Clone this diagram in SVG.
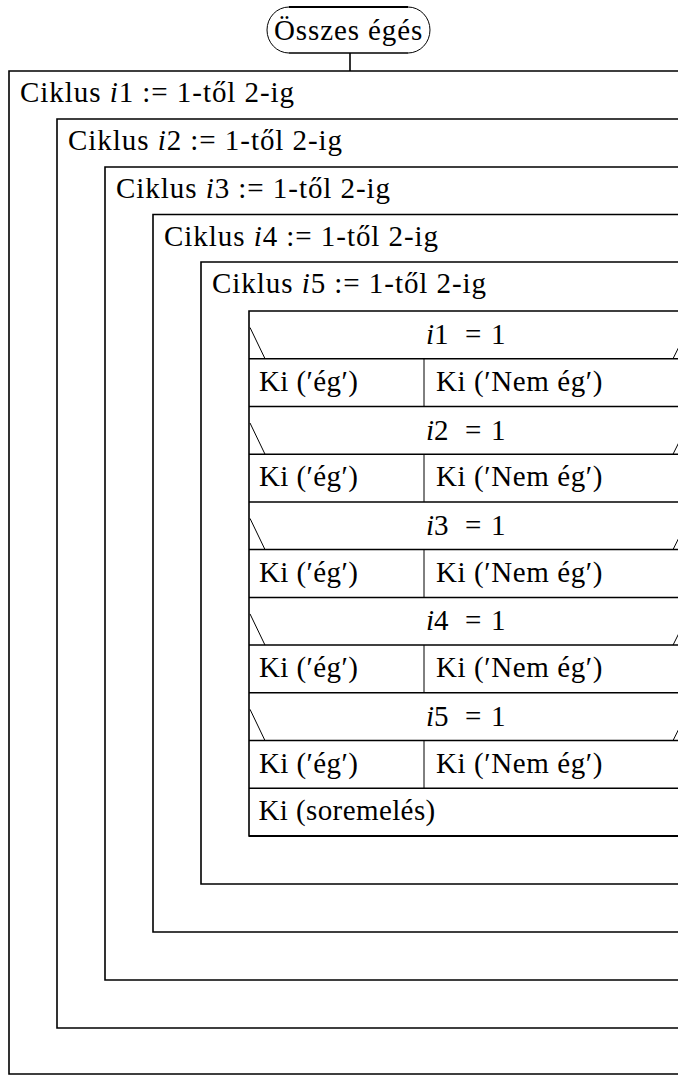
<svg xmlns="http://www.w3.org/2000/svg" width="678" height="1075" viewBox="0 0 678 1075">
<style>
.it{font-style:italic}
.box{fill:none;stroke:#000;stroke-width:1.6}
.thin{fill:none;stroke:#000;stroke-width:1}
.row{fill:none;stroke:#000;stroke-width:1.5}
</style>
<rect width="678" height="1075" fill="#fff"/>

<g id="connectors">
<line x1="350" y1="53" x2="350" y2="71" class="box"/>
</g>

<g id="terminal">
<line x1="289" y1="7" x2="408" y2="7" stroke="#000" stroke-width="2"/>
<line x1="289" y1="53" x2="408" y2="53" stroke="#000" stroke-width="1.5"/>
<path d="M289,7 A22,23 0 0 0 289,53" class="thin"/>
<path d="M408,7 A22,23 0 0 1 408,53" class="thin"/>
<text x="274" y="40" font-family="Liberation Serif" font-size="29" letter-spacing="0.9">Összes égés</text>
</g>

<g id="loop1">
<polyline points="690,71 9,71 9,1074 690,1074" class="box"/>
<text x="20" y="102" font-family="Liberation Serif" font-size="29" letter-spacing="0.95">Ciklus <tspan class="it">i</tspan>1 := 1-től 2-ig</text>
</g>
<g id="loop2">
<polyline points="690,119 57,119 57,1028 690,1028" class="box"/>
<text x="68" y="150" font-family="Liberation Serif" font-size="29" letter-spacing="0.95">Ciklus <tspan class="it">i</tspan>2 := 1-től 2-ig</text>
</g>
<g id="loop3">
<polyline points="690,167 105,167 105,980 690,980" class="box"/>
<text x="116" y="198" font-family="Liberation Serif" font-size="29" letter-spacing="0.95">Ciklus <tspan class="it">i</tspan>3 := 1-től 2-ig</text>
</g>
<g id="loop4">
<polyline points="690,214.5 153,214.5 153,932 690,932" class="box"/>
<text x="164" y="245.5" font-family="Liberation Serif" font-size="29" letter-spacing="0.95">Ciklus <tspan class="it">i</tspan>4 := 1-től 2-ig</text>
</g>
<g id="loop5">
<polyline points="690,262 201,262 201,884 690,884" class="box"/>
<text x="212" y="293" font-family="Liberation Serif" font-size="29" letter-spacing="0.95">Ciklus <tspan class="it">i</tspan>5 := 1-től 2-ig</text>
</g>

<g id="structogram">
<polyline points="690,311 249,311 249,836 690,836" class="box"/>
<line x1="249" y1="836" x2="690" y2="836" stroke="#000" stroke-width="2.2"/>
</g>

<g id="if1">
<line x1="250" y1="327.5" x2="265" y2="358.7" class="thin"/>
<line x1="673" y1="358.7" x2="686" y2="332.7" class="thin"/>
<text x="426" y="344" font-family="Liberation Serif" font-size="29"><tspan class="it">i</tspan>1<tspan x="465">=</tspan><tspan x="491">1</tspan></text>
<line x1="249" y1="358.7" x2="690" y2="358.7" class="row"/>
</g>
<g id="out1">
<line x1="424" y1="358.7" x2="424" y2="406.5" class="thin"/>
<text x="259" y="390.7" font-family="Liberation Serif" font-size="29" letter-spacing="0.4">Ki (′ég′)</text>
<text x="436" y="390.7" font-family="Liberation Serif" font-size="29" letter-spacing="0.6">Ki (′Nem ég′)</text>
<line x1="249" y1="406.5" x2="690" y2="406.5" class="row"/>
</g>

<g id="if2">
<line x1="250" y1="423" x2="265" y2="454.2" class="thin"/>
<line x1="673" y1="454.2" x2="686" y2="428.2" class="thin"/>
<text x="426" y="439.5" font-family="Liberation Serif" font-size="29"><tspan class="it">i</tspan>2<tspan x="465">=</tspan><tspan x="491">1</tspan></text>
<line x1="249" y1="454.2" x2="690" y2="454.2" class="row"/>
</g>
<g id="out2">
<line x1="424" y1="454.2" x2="424" y2="501.9" class="thin"/>
<text x="259" y="486.2" font-family="Liberation Serif" font-size="29" letter-spacing="0.4">Ki (′ég′)</text>
<text x="436" y="486.2" font-family="Liberation Serif" font-size="29" letter-spacing="0.6">Ki (′Nem ég′)</text>
<line x1="249" y1="501.9" x2="690" y2="501.9" class="row"/>
</g>

<g id="if3">
<line x1="250" y1="518.4" x2="265" y2="549.6" class="thin"/>
<line x1="673" y1="549.6" x2="686" y2="523.6" class="thin"/>
<text x="426" y="534.9" font-family="Liberation Serif" font-size="29"><tspan class="it">i</tspan>3<tspan x="465">=</tspan><tspan x="491">1</tspan></text>
<line x1="249" y1="549.6" x2="690" y2="549.6" class="row"/>
</g>
<g id="out3">
<line x1="424" y1="549.6" x2="424" y2="597.4" class="thin"/>
<text x="259" y="581.6" font-family="Liberation Serif" font-size="29" letter-spacing="0.4">Ki (′ég′)</text>
<text x="436" y="581.6" font-family="Liberation Serif" font-size="29" letter-spacing="0.6">Ki (′Nem ég′)</text>
<line x1="249" y1="597.4" x2="690" y2="597.4" class="row"/>
</g>

<g id="if4">
<line x1="250" y1="613.9" x2="265" y2="645.1" class="thin"/>
<line x1="673" y1="645.1" x2="686" y2="619.1" class="thin"/>
<text x="426" y="630.4" font-family="Liberation Serif" font-size="29"><tspan class="it">i</tspan>4<tspan x="465">=</tspan><tspan x="491">1</tspan></text>
<line x1="249" y1="645.1" x2="690" y2="645.1" class="row"/>
</g>
<g id="out4">
<line x1="424" y1="645.1" x2="424" y2="692.8" class="thin"/>
<text x="259" y="677.1" font-family="Liberation Serif" font-size="29" letter-spacing="0.4">Ki (′ég′)</text>
<text x="436" y="677.1" font-family="Liberation Serif" font-size="29" letter-spacing="0.6">Ki (′Nem ég′)</text>
<line x1="249" y1="692.8" x2="690" y2="692.8" class="row"/>
</g>

<g id="if5">
<line x1="250" y1="709.3" x2="265" y2="740.6" class="thin"/>
<line x1="673" y1="740.6" x2="686" y2="714.6" class="thin"/>
<text x="426" y="725.8" font-family="Liberation Serif" font-size="29"><tspan class="it">i</tspan>5<tspan x="465">=</tspan><tspan x="491">1</tspan></text>
<line x1="249" y1="740.6" x2="690" y2="740.6" class="row"/>
</g>
<g id="out5">
<line x1="424" y1="740.6" x2="424" y2="788.3" class="thin"/>
<text x="259" y="772.6" font-family="Liberation Serif" font-size="29" letter-spacing="0.4">Ki (′ég′)</text>
<text x="436" y="772.6" font-family="Liberation Serif" font-size="29" letter-spacing="0.6">Ki (′Nem ég′)</text>
<line x1="249" y1="788.3" x2="690" y2="788.3" class="row"/>
</g>

<g id="newline">
<text x="258.5" y="820" font-family="Liberation Serif" font-size="29" letter-spacing="0.4">Ki (soremelés)</text>
</g>
</svg>
